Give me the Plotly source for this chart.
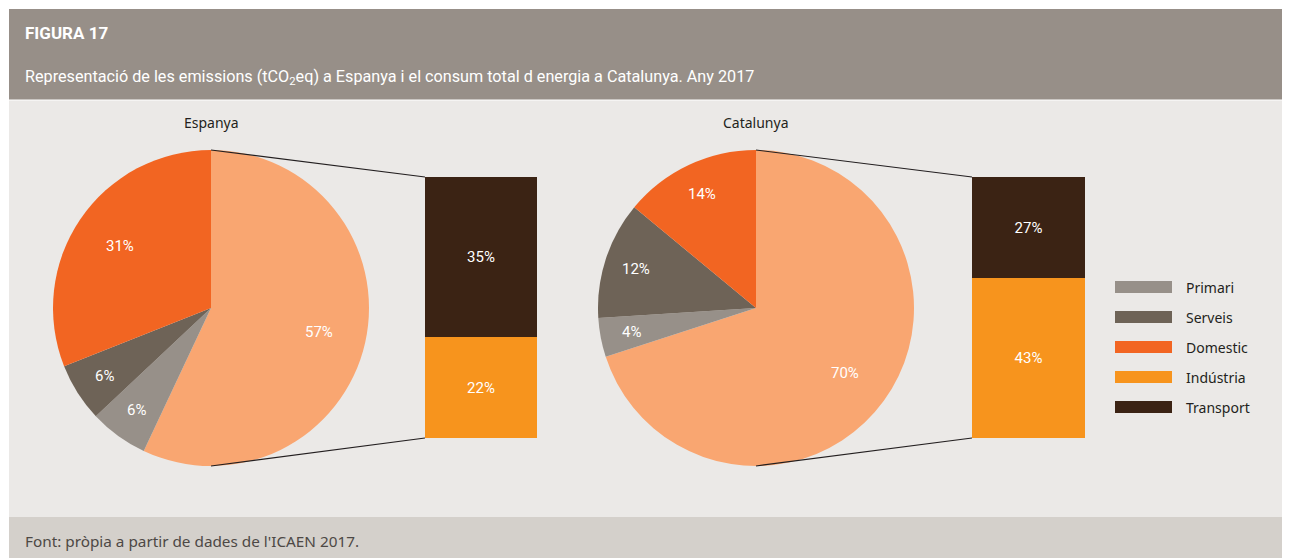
import math
import plotly.graph_objects as go

# ---------------- data ----------------
sectors = ["Primari", "Serveis", "Domestic", "Indústria", "Transport"]
colors = {"Primari": "#979089", "Serveis": "#6e6357", "Domestic": "#f26522",
          "Indústria": "#f7941d", "Transport": "#3b2314"}
combined_color = "#f9a671"

esp_pie_labels = ["Indústria + Transport", "Primari", "Serveis", "Domestic"]
esp_pie_values = [57, 6, 6, 31]
esp_bar_labels = ["Indústria", "Transport"]
esp_bar_values = [22, 35]

cat_pie_labels = ["Indústria + Transport", "Primari", "Serveis", "Domestic"]
cat_pie_values = [70, 4, 12, 14]
cat_bar_labels = ["Indústria", "Transport"]
cat_bar_values = [43, 27]

titles = ["Espanya", "Catalunya"]

# ---------------- layout geometry ----------------
OFF = 8                      # page body margin
W, H = 1290 - OFF, 558 - OFF
def px(x): return (x - OFF) / W
def py(y): return 1 - (y - OFF) / H

COND = "Roboto, sans-serif"
REG = "Noto Sans, Open Sans, sans-serif"

pies = [
    dict(cx=211, cy=308, r=158, labels=esp_pie_labels, values=esp_pie_values,
         bar_x0=425, bar_x1=537, bl=esp_bar_labels, bv=esp_bar_values),
    dict(cx=756, cy=308, r=158, labels=cat_pie_labels, values=cat_pie_values,
         bar_x0=972, bar_x1=1085, bl=cat_bar_labels, bv=cat_bar_values),
]
bar_top, bar_bot = 177, 438

fig = go.Figure()
shapes = []
annotations = []

for i, p in enumerate(pies):
    pcols = [combined_color] + [colors[l] for l in p["labels"][1:]]
    fig.add_trace(go.Pie(
        labels=p["labels"], values=p["values"], sort=False, direction="clockwise",
        rotation=0, marker=dict(colors=pcols, line=dict(width=0)),
        textinfo="none",
        domain=dict(x=[px(p["cx"] - p["r"]), px(p["cx"] + p["r"])],
                    y=[py(p["cy"] + p["r"]), py(p["cy"] - p["r"])]),
        showlegend=False, hoverinfo="label+value",
    ))
    # slice labels placed along each slice's mid angle
    total = sum(p["values"])
    cum = 0
    for v in p["values"]:
        mid = (cum + v / 2) / total * 2 * math.pi
        cum += v
        f = 0.8 if v <= 15 else 0.7
        xx = p["cx"] + f * p["r"] * math.sin(mid)
        yy = p["cy"] - f * p["r"] * math.cos(mid)
        annotations.append(dict(text=f"{v}%", xref="paper", yref="paper",
                                x=px(xx), y=py(yy), showarrow=False,
                                xanchor="center", yanchor="middle",
                                font=dict(family=COND, size=15, color="white")))
    xa = "x" if i == 0 else "x2"
    ya = "y" if i == 0 else "y2"
    for lab, val in zip(p["bl"], p["bv"]):
        fig.add_trace(go.Bar(
            x=[0], y=[val], width=[1], name=lab, xaxis=xa, yaxis=ya,
            marker=dict(color=colors[lab], line=dict(width=0)),
            text=[f"{val}%"], textposition="inside", insidetextanchor="middle",
            textangle=0, textfont=dict(family=COND, size=15, color="white"),
            showlegend=False,
        ))
    # connector lines (from pie top/bottom to bar top/bottom)
    shapes.append(dict(type="line", xref="paper", yref="paper",
                       x0=px(p["cx"]), y0=py(p["cy"] - p["r"]),
                       x1=px(p["bar_x0"]), y1=py(bar_top),
                       line=dict(color="#231f20", width=1.2)))
    shapes.append(dict(type="line", xref="paper", yref="paper",
                       x0=px(p["cx"]), y0=py(p["cy"] + p["r"]),
                       x1=px(p["bar_x0"]), y1=py(bar_bot),
                       line=dict(color="#231f20", width=1.2)))
    annotations.append(dict(text=titles[i], xref="paper", yref="paper",
                            x=px(p["cx"]), y=py(122), showarrow=False,
                            xanchor="center", yanchor="middle",
                            font=dict(family=REG, size=14, color="#231f20")))

# backgrounds
shapes = [
    dict(type="rect", xref="paper", yref="paper", x0=px(9), x1=1, y0=py(100), y1=py(9),
         fillcolor="#978f88", line=dict(width=0), layer="below"),
    dict(type="rect", xref="paper", yref="paper", x0=px(9), x1=1, y0=py(517), y1=py(100),
         fillcolor="#ebe9e7", line=dict(width=0), layer="below"),
    dict(type="rect", xref="paper", yref="paper", x0=px(9), x1=1, y0=0, y1=py(517),
         fillcolor="#d4d0cb", line=dict(width=0), layer="below"),
    dict(type="line", xref="paper", yref="paper", x0=px(9), x1=1, y0=py(100), y1=py(100),
         line=dict(color="#ffffff", width=1)),
] + shapes

# legend (drawn from sectors list)
for k, s in enumerate(sectors):
    yc = 287 + 30 * k
    shapes.append(dict(type="rect", xref="paper", yref="paper",
                       x0=px(1115), x1=px(1172), y0=py(yc + 6), y1=py(yc - 6),
                       fillcolor=colors[s], line=dict(width=0)))
    annotations.append(dict(text=s, xref="paper", yref="paper", x=px(1184), y=py(yc),
                            xanchor="left", yanchor="middle", showarrow=False,
                            font=dict(family=REG, size=14, color="#231f20")))

# header / footer texts
annotations += [
    dict(text="<b>FIGURA 17</b>", xref="paper", yref="paper", x=px(23), y=py(33),
         xanchor="left", yanchor="middle", showarrow=False,
         font=dict(family=COND, size=17, color="white")),
    dict(text="Representació de les emissions (tCO<sub>2</sub>eq) a Espanya i el consum total d energia a Catalunya. Any 2017",
         xref="paper", yref="paper", x=px(23), y=py(77),
         xanchor="left", yanchor="middle", showarrow=False,
         font=dict(family=COND, size=16.2, color="white")),
    dict(text="Font: pròpia a partir de dades de l'ICAEN 2017.", xref="paper", yref="paper",
         x=px(23), y=py(541), xanchor="left", yanchor="middle", showarrow=False,
         font=dict(family=REG, size=15.3, color="#4d4845")),
]

axis_common = dict(showgrid=False, zeroline=False, showticklabels=False, showline=False,
                   fixedrange=True)
fig.update_layout(
    width=W, height=H, margin=dict(l=0, r=0, t=0, b=0),
    paper_bgcolor="white", plot_bgcolor="rgba(0,0,0,0)",
    barmode="stack", bargap=0,
    xaxis=dict(domain=[px(425), px(537)], range=[-0.5, 0.5], anchor="y", **axis_common),
    yaxis=dict(domain=[py(bar_bot), py(bar_top)], range=[0, sum(esp_bar_values)],
               anchor="x", **axis_common),
    xaxis2=dict(domain=[px(972), px(1085)], range=[-0.5, 0.5], anchor="y2", **axis_common),
    yaxis2=dict(domain=[py(bar_bot), py(bar_top)], range=[0, sum(cat_bar_values)],
                anchor="x2", **axis_common),
    shapes=shapes, annotations=annotations, showlegend=False,
    uniformtext=dict(minsize=10, mode="show"),
)

fig.write_html("out.html")
